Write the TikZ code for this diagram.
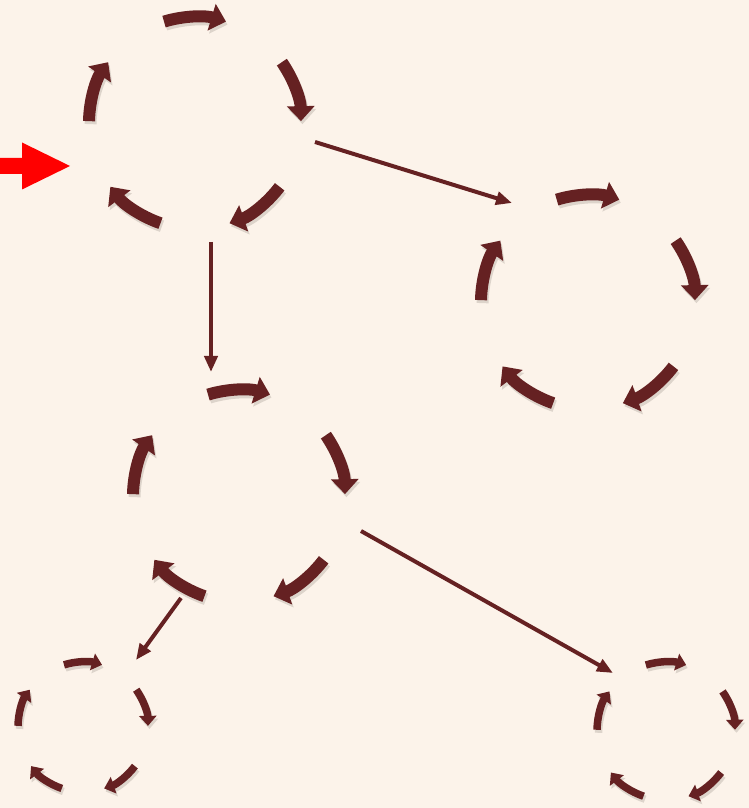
\documentclass[tikz,border=0pt]{standalone}
\usetikzlibrary{arrows.meta,calc}
\definecolor{bg}{HTML}{FCF3EA}
\definecolor{mar}{HTML}{652122}
\definecolor{shd}{HTML}{DDD4CB}
\newcommand\mycycle[3]{%
  \foreach \t in {90,18,-54,-126,-198}{%
    \draw[#3, shd] ($(#1)+(\t+17:#2)+(1.5,-3)$) arc[start angle=\t+17, end angle=\t-17, radius=#2];
  }%
  \foreach \t in {90,18,-54,-126,-198}{%
    \draw[#3, mar] ($(#1)+(\t+17:#2)$) arc[start angle=\t+17, end angle=\t-17, radius=#2];
  }%
}
\begin{document}
\begin{tikzpicture}[x=1pt,y=1pt,
  bigarc/.style={line width=12pt, -{Triangle[width=27pt,length=15pt]}},
  smallarc/.style={line width=7.5pt, -{Triangle[width=17pt,length=10pt]}},
  link/.style={draw=mar, line width=4pt, -{Triangle[width=13pt,length=16pt]}}]
\fill[bg] (0,0) rectangle (749,808);
\useasboundingbox (0,0) rectangle (749,808);
% cycle centres
\coordinate (c1) at (195,685);
\coordinate (c2) at (588,506);
\coordinate (c3) at (239,312);
\coordinate (c4) at (83,81);
\coordinate (c5) at (666,77);
\mycycle{c1}{106}{bigarc}
\mycycle{c2}{107}{bigarc}
\mycycle{c3}{106}{bigarc}
\mycycle{c4}{65}{smallarc}
\mycycle{c5}{69}{smallarc}
% connector end points
\coordinate (a1) at (315,666);
\coordinate (a2) at (512,605);
\coordinate (b1) at (211,566);
\coordinate (b2) at (211,436);
\coordinate (d1) at (361,277);
\coordinate (d2) at (613,135);
\coordinate (e1) at (181,210);
\coordinate (e2) at (136,148);
\draw[link] (a1) -- (a2);
\draw[link] (b1) -- (b2);
\draw[link] (d1) -- (d2);
\draw[link] (e1) -- (e2);
% red entry arrow
\coordinate (r0) at (0,642);
\fill[red] (r0) ++(0,8) -- ++(22,0) -- ++(0,15.5) -- (70,642) -- (22,618.5) -- (22,634) -- (0,634) -- cycle;
\end{tikzpicture}
\end{document}
